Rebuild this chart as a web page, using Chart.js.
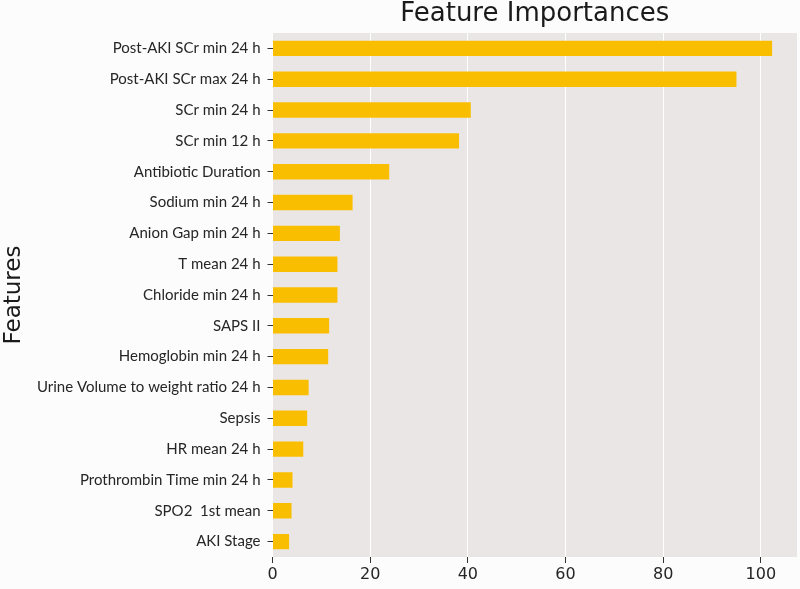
<!DOCTYPE html>
<html>
<head>
<meta charset="utf-8">
<script src="https://cdn.jsdelivr.net/npm/chart.js@4"></script>
<style>
  html, body { margin: 0; padding: 0; background: #FDFCFC; }
  #wrap { width: 800px; height: 589px; position: relative; }
</style>
</head>
<body>
<div id="wrap"><canvas id="c" width="800" height="589"></canvas></div>
<script>
const features = [
  "Post-AKI SCr min 24 h",
  "Post-AKI SCr max 24 h",
  "SCr min 24 h",
  "SCr min 12 h",
  "Antibiotic Duration",
  "Sodium min 24 h",
  "Anion Gap min 24 h",
  "T mean 24 h",
  "Chloride min 24 h",
  "SAPS II",
  "Hemoglobin min 24 h",
  "Urine Volume to weight ratio 24 h",
  "Sepsis",
  "HR mean 24 h",
  "Prothrombin Time min 24 h",
  "SPO2  1st mean",
  "AKI Stage"
];
const importances = [102.3, 95.0, 40.6, 38.2, 23.9, 16.4, 13.8, 13.3, 13.3, 11.6, 11.4, 7.4, 7.1, 6.3, 4.1, 3.9, 3.4];
const xTicks = [0, 20, 40, 60, 80, 100];
const chartTitle = 'Feature Importances';

const plotBg = {
  id: 'plotBg',
  beforeDraw(chart) {
    const {ctx, chartArea: a} = chart;
    ctx.save();
    ctx.fillStyle = '#EAE6E5';
    ctx.fillRect(a.left, a.top, a.right - a.left, a.bottom - a.top);
    ctx.restore();
  },
  afterDraw(chart) {
    const {ctx, chartArea: a} = chart;
    ctx.save();
    ctx.fillStyle = '#1a1a1a';
    ctx.font = '26px "DejaVu Sans"';
    ctx.textAlign = 'center';
    ctx.textBaseline = 'middle';
    ctx.fillText(chartTitle, (a.left + a.right) / 2, 14);
    ctx.restore();
  }
};

new Chart(document.getElementById('c'), {
  type: 'bar',
  data: {
    labels: features,
    datasets: [{
      data: importances,
      backgroundColor: '#FABE00',
      borderWidth: 0,
      barPercentage: 0.5,
      categoryPercentage: 1.0
    }]
  },
  options: {
    indexAxis: 'y',
    responsive: false,
    animation: false,
    layout: { padding: { left: 0, right: 3, top: 33, bottom: 0 } },
    plugins: {
      legend: { display: false },
      tooltip: { enabled: false },
      title: { display: false }
    },
    scales: {
      x: {
        min: 0,
        max: 107.4,
        afterBuildTicks(scale) {
          scale.ticks = xTicks.map(v => ({ value: v }));
        },
        afterFit(scale) { scale.height = 32; },
        border: { display: false },
        grid: {
          color: '#FFFFFF',
          lineWidth: 1,
          drawTicks: true,
          tickLength: 6,
          tickColor: '#333333'
        },
        ticks: {
          color: '#262626',
          font: { family: 'DejaVu Sans', size: 16 },
          padding: 2,
          maxRotation: 0
        }
      },
      y: {
        afterFit(scale) { scale.width = 272.5; },
        border: { display: false },
        grid: {
          offset: false,
          drawOnChartArea: false,
          drawTicks: true,
          tickLength: 5,
          tickColor: '#333333'
        },
        ticks: {
          color: '#262626',
          font: { family: 'Lato', size: 15 },
          padding: 7,
          autoSkip: false
        },
        title: {
          display: true,
          text: 'Features',
          color: '#1a1a1a',
          font: { family: 'DejaVu Sans', size: 23 },
          padding: { top: 0, bottom: 0 }
        }
      }
    }
  },
  plugins: [plotBg]
});
</script>
</body>
</html>
